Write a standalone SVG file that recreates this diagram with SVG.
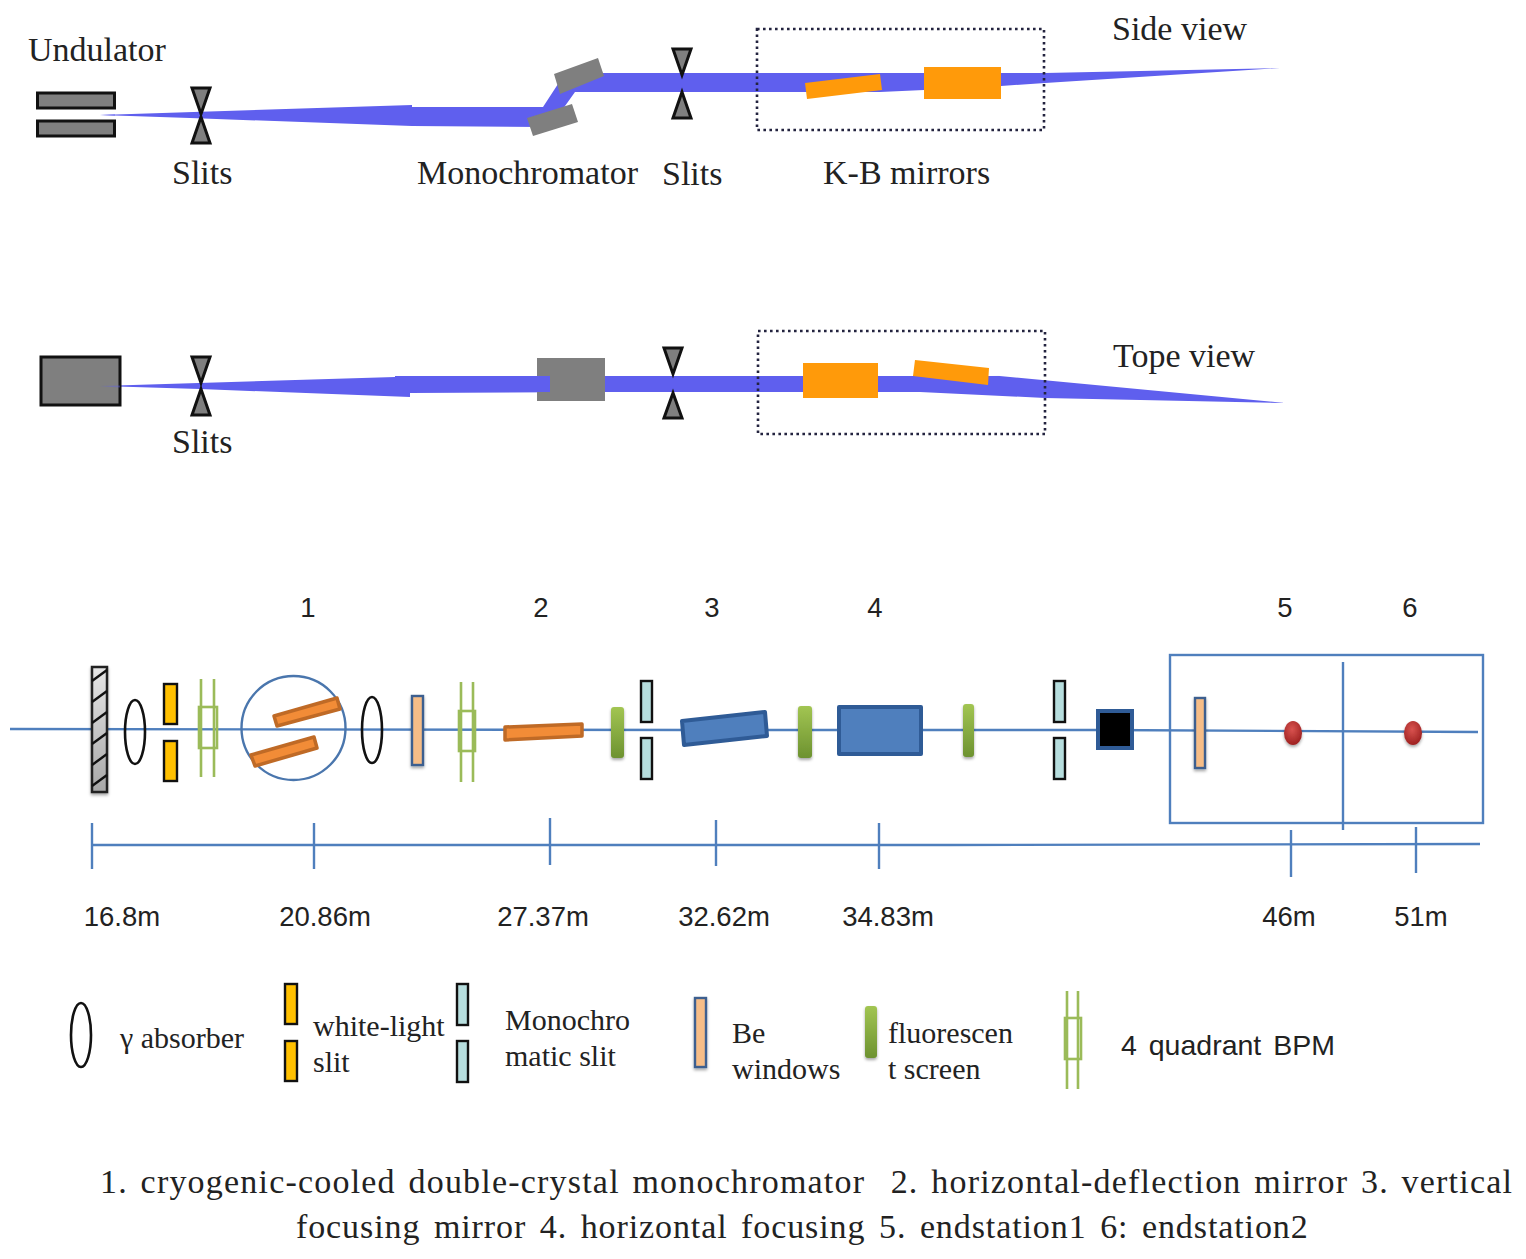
<svg xmlns="http://www.w3.org/2000/svg" width="1526" height="1259" viewBox="0 0 1526 1259">
<style>
.s{font-family:"Liberation Serif","Times New Roman",serif;fill:#222;font-size:34px}
.l{font-family:"Liberation Serif","Times New Roman",serif;fill:#222;font-size:30px}
.a{font-family:"Liberation Sans",Arial,sans-serif;fill:#222;font-size:27.500px}
.m{text-anchor:middle}
.beam{fill:#5f5fee;stroke:none}
.gray{fill:#7f7f7f}
.und{fill:#7f7f7f;stroke:#111;stroke-width:3}
.tri{fill:#7f7f7f;stroke:#111;stroke-width:3;stroke-linejoin:miter}
.dot{fill:none;stroke:#23233f;stroke-width:2.6;stroke-dasharray:2.6 3.4}
.org{fill:#ff9a0a}
.ln{fill:none;stroke:#4f7fbd;stroke-width:2.4}
.yl{fill:#ffc000;stroke:#111;stroke-width:2.4}
.cy{fill:#b7dede;stroke:#111;stroke-width:2.4}
.be{fill:#f6bd87;stroke:#3d5f8f;stroke-width:2.4}
.bpm{fill:none;stroke:#9bbb59;stroke-width:2.6}
.el{fill:none;stroke:#111;stroke-width:2.6}
.cry{fill:#f28c37;stroke:#bf6a26;stroke-width:3.5;stroke-linejoin:round}
.bl{fill:#4f7fbd;stroke:#2f5b96;stroke-width:4;stroke-linejoin:round}
</style>
<defs>
<linearGradient id="gg" x1="0" y1="0" x2="0" y2="1"><stop offset="0" stop-color="#a2c552"/><stop offset="1" stop-color="#6d9230"/></linearGradient>
<linearGradient id="hg" x1="0" y1="0" x2="0" y2="1"><stop offset="0" stop-color="#e6e6e6"/><stop offset="1" stop-color="#a8a8a8"/></linearGradient>
<radialGradient id="rd" cx="0.45" cy="0.35" r="0.7"><stop offset="0" stop-color="#d9534f"/><stop offset="1" stop-color="#991d1d"/></radialGradient>
<filter id="sh" x="-40%" y="-20%" width="180%" height="140%"><feDropShadow dx="0" dy="2" stdDeviation="1.8" flood-color="#000" flood-opacity="0.35"/></filter>
</defs>

<g id="connectors">
<polygon class="beam" points="100,115 412,105 412,107 543,107 558,84 575,73 1045,73 1280,68 1045,83 1001,86 1001,88 924,90 880,92 575,92 560,113 540,127 412,126 190,118"/>
<polygon class="beam" points="100,386 395,377 395,376 1000,376 989,375 1285,403 1045,398 920,392 605,392 410,393 410,397 200,389"/>
<g class="ln">
<polyline points="10,729 700,730 1100,730 1478,732"/>
<polyline points="92,845 500,845 950,845 1480,844"/>
<line x1="92" y1="823" x2="92" y2="869"/>
<line x1="314" y1="823" x2="314" y2="869"/>
<line x1="550" y1="818" x2="550" y2="865"/>
<line x1="716" y1="820" x2="716" y2="866"/>
<line x1="879" y1="823" x2="879" y2="869"/>
<line x1="1291" y1="830" x2="1291" y2="877"/>
<line x1="1416" y1="827" x2="1416" y2="873"/>
</g>
</g>

<g id="undulator-side"><rect class="und" x="37.500" y="93" width="77" height="15"/><rect class="und" x="37.500" y="121" width="77" height="15"/></g>
<polygon class="beam" points="100,115 115,114.500 115,115.500"/>
<g id="slits-side-1"><polygon class="tri" points="192,88 210,88 201,114"/><polygon class="tri" points="201,117 192,143 210,143"/></g>
<g id="mono-side"><polygon class="gray" points="554,74 598,58 604,76 560,94"/><polygon class="gray" points="527,118 572,104 578,122 533,136"/></g>
<g id="slits-side-2"><polygon class="tri" points="673,49 691,49 682,75"/><polygon class="tri" points="682,92 673,118 691,118"/></g>
<g id="kb-side"><rect class="dot" x="757" y="29" width="287" height="101"/><polygon class="org" points="805,83 880,74 882,90 807,99"/><rect class="org" x="924" y="67" width="77" height="32"/></g>

<g id="undulator-top"><rect class="und" x="41" y="357" width="79" height="48"/></g>
<polygon class="beam" points="100,386 120,385.500 120,387.500" opacity="0.4"/>
<g id="slits-top-1"><polygon class="tri" points="192,357 210,357 201,383"/><polygon class="tri" points="201,389 192,415 210,415"/></g>
<g id="mono-top"><rect class="gray" x="537" y="358" width="68" height="43"/></g>
<polygon class="beam" points="537,376 550,376 550,392 537,392"/>
<g id="slits-top-2"><polygon class="tri" points="664,348 682,348 673,374"/><polygon class="tri" points="673,393 664,418 682,418"/></g>
<g id="kb-top"><rect class="dot" x="758" y="331" width="287" height="103"/><rect class="org" x="803" y="363" width="75" height="35"/><polygon class="org" points="915,360 989,368 988,385 913,376"/></g>

<g id="absorber-plate"><rect x="92" y="667" width="15" height="125" fill="url(#hg)" stroke="#222" stroke-width="2.500" filter="url(#sh)"/>
<g stroke="#111" stroke-width="2.400"><line x1="92" y1="681" x2="107" y2="670"/><line x1="92" y1="702" x2="107" y2="691"/><line x1="92" y1="723" x2="107" y2="712"/><line x1="92" y1="744" x2="107" y2="733"/><line x1="92" y1="765" x2="107" y2="754"/><line x1="92" y1="786" x2="107" y2="775"/></g></g>
<g id="absorber-1"><ellipse class="el" cx="135" cy="732" rx="10" ry="32"/></g>
<g id="white-slit"><rect class="yl" x="164" y="684" width="13" height="40"/><rect class="yl" x="164" y="741" width="13" height="40"/></g>
<g id="bpm-1"><path class="bpm" d="M201 679V777M214 679V777"/><rect class="bpm" x="199" y="707" width="18" height="41"/></g>
<g id="dcm"><circle cx="293.500" cy="728" r="52" fill="none" stroke="#4a76ad" stroke-width="2.400"/>
<polygon class="cry" points="274,716 337,698 340,709 277,726"/><polygon class="cry" points="251,755 314,737 317,748 255,766"/></g>
<g id="absorber-2"><ellipse class="el" cx="372" cy="730" rx="10" ry="33"/></g>
<g id="be-1"><rect class="be" x="412" y="696" width="11" height="69" filter="url(#sh)"/></g>
<g id="bpm-2"><path class="bpm" d="M461 682V782M473 682V782"/><rect class="bpm" x="459" y="711" width="16" height="40"/></g>
<g id="mirror-2"><polygon class="cry" points="505,727 582,724 582,736 505,740"/></g>
<g id="screen-1"><rect x="611" y="707" width="13" height="51" rx="3" fill="url(#gg)" filter="url(#sh)"/></g>
<g id="mono-slit-1"><rect class="cy" x="641" y="681" width="11" height="41"/><rect class="cy" x="641" y="738" width="11" height="41"/></g>
<g id="mirror-3"><polygon class="bl" points="682,721 765,712 767,736 684,745"/></g>
<g id="screen-2"><rect x="798" y="706" width="14" height="52" rx="3" fill="url(#gg)" filter="url(#sh)"/></g>
<g id="mirror-4"><rect class="bl" x="839" y="707" width="82" height="47"/></g>
<g id="screen-3"><rect x="963" y="704" width="11" height="53" rx="3" fill="url(#gg)" filter="url(#sh)"/></g>
<g id="mono-slit-2"><rect class="cy" x="1054" y="681" width="11" height="41"/><rect class="cy" x="1054" y="738" width="11" height="41"/></g>
<g id="black-box"><rect x="1098" y="711" width="34" height="37" fill="#000" stroke="#2f5b96" stroke-width="4"/></g>
<g id="hutch"><rect class="ln" x="1170" y="655" width="313" height="168"/><line class="ln" x1="1343" y1="662" x2="1343" y2="830"/></g>
<g id="be-2"><rect class="be" x="1195" y="698" width="10" height="70" filter="url(#sh)"/></g>
<g id="sample-1"><ellipse cx="1293" cy="733" rx="9" ry="12" fill="url(#rd)" filter="url(#sh)"/></g>
<g id="sample-2"><ellipse cx="1413" cy="733" rx="9" ry="12" fill="url(#rd)" filter="url(#sh)"/></g>

<g id="legend-absorber"><ellipse class="el" cx="81" cy="1035" rx="10" ry="32"/><text class="l" x="120" y="1048">γ absorber</text></g>
<g id="legend-white-slit"><rect class="yl" x="285" y="984" width="12" height="40"/><rect class="yl" x="285" y="1041" width="12" height="40"/><text class="l" x="313" y="1036">white-light</text><text class="l" x="313" y="1072">slit</text></g>
<g id="legend-mono-slit"><rect class="cy" x="457" y="984" width="11" height="41"/><rect class="cy" x="457" y="1041" width="11" height="41"/><text class="l" x="505" y="1030">Monochro</text><text class="l" x="505" y="1066">matic slit</text></g>
<g id="legend-be"><rect class="be" x="695" y="998" width="11" height="69" filter="url(#sh)"/><text class="l" x="732" y="1043">Be</text><text class="l" x="732" y="1079">windows</text></g>
<g id="legend-screen"><rect x="865" y="1006" width="12" height="52" rx="3" fill="url(#gg)" filter="url(#sh)"/><text class="l" x="888" y="1043">fluorescen</text><text class="l" x="888" y="1079">t screen</text></g>
<g id="legend-bpm"><path class="bpm" d="M1067 991V1089M1078 991V1089"/><rect class="bpm" x="1065" y="1018" width="16" height="41"/><text class="a" x="1121" y="1055" word-spacing="4" style="font-size:28.500px">4 quadrant BPM</text></g>

<g id="labels">
<text class="s" x="28" y="61">Undulator</text>
<text class="s" x="172" y="184">Slits</text>
<text class="s" x="417" y="184">Monochromator</text>
<text class="s" x="662" y="185">Slits</text>
<text class="s" x="823" y="184">K-B mirrors</text>
<text class="s" x="1112" y="40">Side view</text>
<text class="s" x="1113" y="367">Tope view</text>
<text class="s" x="172" y="453">Slits</text>
<text class="a m" x="308" y="617">1</text>
<text class="a m" x="541" y="617">2</text>
<text class="a m" x="712" y="617">3</text>
<text class="a m" x="875" y="617">4</text>
<text class="a m" x="1285" y="617">5</text>
<text class="a m" x="1410" y="617">6</text>
<text class="a m" x="122" y="926">16.8m</text>
<text class="a m" x="325" y="926">20.86m</text>
<text class="a m" x="543" y="926">27.37m</text>
<text class="a m" x="724" y="926">32.62m</text>
<text class="a m" x="888" y="926">34.83m</text>
<text class="a m" x="1289" y="926">46m</text>
<text class="a m" x="1421" y="926">51m</text>
<text class="s" x="100" y="1193" word-spacing="3" letter-spacing="1.200" style="white-space:pre">1. cryogenic-cooled double-crystal monochromator  2. horizontal-deflection mirror 3. vertical</text>
<text class="s" x="296" y="1238" word-spacing="4.200" letter-spacing="0.900">focusing mirror 4. horizontal focusing 5. endstation1 6: endstation2</text>
</g>
</svg>
